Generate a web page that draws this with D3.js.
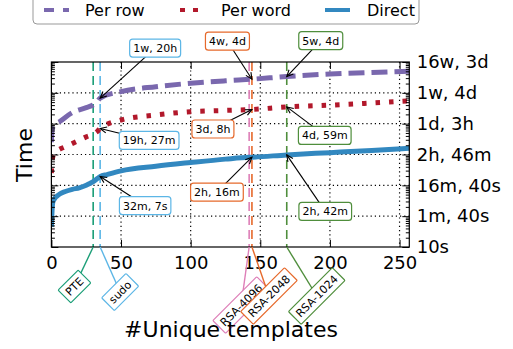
<!DOCTYPE html>
<html><head><meta charset="utf-8">
<script src="https://cdn.jsdelivr.net/npm/d3@7"></script>
<style>body{margin:0;background:#fff}svg{display:block}text{font-family:"DejaVu Sans",sans-serif}</style>
</head><body><svg id="c" width="513" height="349"></svg>
<script>
// ---- data ----
const seriesNames = ["Per row", "Per word", "Direct"];
const perRowX   = [0, 0.5, 2, 6, 15, 25, 30, 33, 35, 50, 75, 100, 125, 144, 169, 200, 230, 257];
const perRowSec = [25100, 63100, 89100, 117500, 229000, 331000, 407000, 525000, 676800, 1096000, 1585000, 2042000, 2455000, 2764800, 3369600, 4074000, 4571000, 5012000];
const perWordX   = [0, 0.5, 2, 5, 10, 18, 25, 30, 33, 35, 50, 75, 100, 125, 144, 169, 200, 230, 257];
const perWordSec = [2500, 6300, 11200, 14100, 17800, 26300, 37200, 45700, 56200, 70020, 131800, 190500, 245500, 269000, 288000, 349140, 398000, 467700, 549500];
const directX   = [0, 0.5, 1, 2, 4, 6, 10, 15, 20, 25, 28, 30, 33, 35, 40, 50, 75, 100, 125, 142, 144, 169, 200, 230, 257];
const directSec = [45, 158, 282, 355, 447, 525, 631, 741, 832, 1000, 1175, 1318, 1660, 1927, 2239, 2951, 4169, 5495, 7079, 8100, 8160, 9720, 11480, 13490, 15850];

const markerNames = ["PTE", "sudo", "RSA-4096", "RSA-2048", "RSA-1024"];
const markerX     = [30, 35, 142, 144, 169];

const xTicks = [0, 50, 100, 150, 200, 250];
const yTicks = [1e1, 1e2, 1e3, 1e4, 1e5, 1e6, 1e7];
const yTickLabels = ["10s", "1m, 40s", "16m, 40s", "2h, 46m", "1d, 3h", "1w, 4d", "16w, 3d"];

// annotations: [marker index, series index, label text]
const annoMarker = [1, 1, 1, 3, 3, 3, 4, 4, 4];
const annoSeries = [0, 1, 2, 0, 1, 2, 0, 1, 2];
const annoText   = ["1w, 20h", "19h, 27m", "32m, 7s", "4w, 4d", "3d, 8h", "2h, 16m", "5w, 4d", "4d, 59m", "2h, 42m"];

// ---- layout / style ----
const annoOffset = [[55,-50],[49,12],[45,29],[-24.5,-38],[-39,19.5],[-35,35],[34,-36],[38,28.5],[38.5,56.5]];
const tagOffset  = [[-18.7,39.5],[20,45],[-8,58],[17,49],[30,49]];
const seriesColor = ["#7a68ae", "#b2182b", "#3288c0"];
const seriesDash  = ["16,7", "4.5,9", null];
const markerColor = ["#1b9e77", "#5cb6e6", "#de7fb8", "#e6692b", "#4f8e3c"];

const M = {l: 51.4, r: 409.3, t: 62, b: 247};
const x = d3.scaleLinear().domain([0, 257]).range([M.l, M.r]);
const y = d3.scaleLog().domain([10, 1e7]).range([M.b, M.t]);
const svg = d3.select("#c");

// grid
const g = svg.append("g");
g.selectAll(".gx").data(xTicks.filter(d => d > 0)).join("line")
  .attr("x1", d => x(d)).attr("x2", d => x(d)).attr("y1", M.t).attr("y2", M.b)
  .attr("stroke", "#000").attr("stroke-width", 1.2).attr("stroke-dasharray", "1.2,3");
g.selectAll(".gy").data(yTicks.slice(1, -1)).join("line")
  .attr("y1", d => y(d)).attr("y2", d => y(d)).attr("x1", M.l).attr("x2", M.r)
  .attr("stroke", "#000").attr("stroke-width", 1.2).attr("stroke-dasharray", "1.2,3");

// vertical marker lines
svg.selectAll(".vm").data(markerX).join("line")
  .attr("x1", d => x(d)).attr("x2", d => x(d)).attr("y1", M.t).attr("y2", M.b)
  .attr("stroke", (d, i) => markerColor[i]).attr("stroke-width", 1.6).attr("stroke-dasharray", "9,5");

// series
const allX = [perRowX, perWordX, directX];
const allY = [perRowSec, perWordSec, directSec];
const line = d3.line().x(d => x(d[0])).y(d => y(d[1])).curve(d3.curveMonotoneX);
svg.append("clipPath").attr("id", "pc").append("rect")
  .attr("x", M.l).attr("y", M.t).attr("width", M.r - M.l).attr("height", M.b - M.t);
allX.forEach((xs, s) => {
  svg.append("path").attr("clip-path", "url(#pc)")
    .attr("d", line(xs.map((v, i) => [v, allY[s][i]])))
    .attr("fill", "none").attr("stroke", seriesColor[s]).attr("stroke-width", 5)
    .attr("stroke-dasharray", seriesDash[s]);
});

// axes (ticks inward)
function styleAxis(sel) {
  sel.select(".domain").remove();
  sel.selectAll("line").attr("stroke", "#000").attr("stroke-width", 1);
  sel.selectAll("text").attr("font-size", 18).attr("fill", "#000").attr("font-family", "DejaVu Sans");
}
const minorY = [];
for (let e = 1; e < 7; e++) for (let k = 2; k <= 9; k++) minorY.push(k * Math.pow(10, e));
svg.append("g").attr("transform", `translate(0,${M.b})`)
  .call(d3.axisBottom(x).tickValues(xTicks).tickSizeInner(-7).tickSizeOuter(0).tickPadding(9)).call(styleAxis);
svg.append("g").attr("transform", `translate(0,${M.t})`)
  .call(d3.axisTop(x).tickValues(xTicks).tickSizeInner(-7).tickSizeOuter(0).tickFormat("")).call(styleAxis);
svg.append("g").attr("transform", `translate(${M.r},0)`)
  .call(d3.axisRight(y).tickValues(yTicks).tickFormat((d, i) => yTickLabels[i]).tickSizeInner(-7).tickSizeOuter(0).tickPadding(7.4)).call(styleAxis);
svg.append("g").attr("transform", `translate(${M.l},0)`)
  .call(d3.axisLeft(y).tickValues(yTicks).tickSizeInner(-7).tickSizeOuter(0).tickFormat("")).call(styleAxis);
svg.append("g").attr("transform", `translate(${M.l},0)`)
  .call(d3.axisLeft(y).tickValues(minorY).tickSizeInner(-3.5).tickSizeOuter(0).tickFormat("")).call(styleAxis);
svg.append("g").attr("transform", `translate(${M.r},0)`)
  .call(d3.axisRight(y).tickValues(minorY).tickSizeInner(-3.5).tickSizeOuter(0).tickFormat("")).call(styleAxis);
svg.append("rect").attr("x", M.l).attr("y", M.t).attr("width", M.r - M.l).attr("height", M.b - M.t)
  .attr("fill", "none").attr("stroke", "#000").attr("stroke-width", 1.2);

// arrow marker
svg.append("defs").append("marker").attr("id", "ah").attr("markerUnits", "userSpaceOnUse")
  .attr("viewBox", "-8 -5 10 10").attr("refX", 0).attr("refY", 0)
  .attr("markerWidth", 10).attr("markerHeight", 10).attr("orient", "auto")
  .append("path").attr("d", "M-6.5,-3 L0,0 L-6.5,3").attr("fill", "none").attr("stroke", "#000").attr("stroke-width", 1.1);

// annotations
annoText.forEach((t, i) => {
  const mi = annoMarker[i], si = annoSeries[i];
  const xv = markerX[mi];
  const idx = allX[si].indexOf(xv);
  const px = x(xv), py = y(allY[si][idx]);
  const cx = px + annoOffset[i][0], cy = py + annoOffset[i][1];
  svg.append("line").attr("x1", cx).attr("y1", cy).attr("x2", px).attr("y2", py)
    .attr("stroke", "#000").attr("stroke-width", 1.1).attr("marker-end", "url(#ah)");
  const gg = svg.append("g");
  const r = gg.append("rect");
  const tx = gg.append("text").attr("x", cx).attr("y", cy).attr("dy", "0.36em")
    .attr("text-anchor", "middle").attr("font-size", 11).text(t);
  const w = tx.node().getComputedTextLength() + 7;
  r.attr("x", cx - w / 2).attr("y", cy - 9).attr("width", w).attr("height", 18).attr("rx", 3)
    .attr("fill", "#fff").attr("stroke", markerColor[mi]).attr("stroke-width", 1.2);
});

// rotated tags under the axis
markerNames.forEach((t, i) => {
  const px = x(markerX[i]);
  const cx = px + tagOffset[i][0], cy = M.b + tagOffset[i][1];
  svg.append("line").attr("x1", px).attr("y1", M.b).attr("x2", cx).attr("y2", cy)
    .attr("stroke", markerColor[i]).attr("stroke-width", 1.4);
  const gg = svg.append("g").attr("transform", `translate(${cx},${cy}) rotate(-45)`);
  const r = gg.append("rect");
  const tx = gg.append("text").attr("dy", "0.36em").attr("text-anchor", "middle").attr("font-size", 11).text(t);
  const w = tx.node().getComputedTextLength() + 8;
  r.attr("x", -w / 2).attr("y", -9).attr("width", w).attr("height", 18).attr("rx", 1)
    .attr("fill", "#fff").attr("stroke", markerColor[i]).attr("stroke-width", 1.2);
});

// axis titles (drawn over the tags, as in the reference)
svg.append("text").attr("x", 231).attr("y", 337).attr("text-anchor", "middle")
  .attr("font-size", 22).text("#Unique templates");
svg.append("text").attr("transform", "translate(32,155) rotate(-90)").attr("text-anchor", "middle")
  .attr("font-size", 22).text("Time");

// legend
const lg = svg.append("g");
lg.append("rect").attr("x", 33).attr("y", -10).attr("width", 386).attr("height", 34).attr("rx", 4)
  .attr("fill", "#fff").attr("stroke", "#999").attr("stroke-width", 1);
const legHX = [44, 180, 325], legTX = [85, 221, 367];
seriesNames.forEach((n, i) => {
  lg.append("line").attr("x1", legHX[i]).attr("x2", legHX[i] + 25).attr("y1", 10).attr("y2", 10)
    .attr("stroke", seriesColor[i]).attr("stroke-width", 4)
    .attr("stroke-dasharray", i === 0 ? "10,9" : i === 1 ? "5,8" : null);
  lg.append("text").attr("x", legTX[i]).attr("y", 16).attr("font-size", 16).text(n);
});
</script></body></html>
